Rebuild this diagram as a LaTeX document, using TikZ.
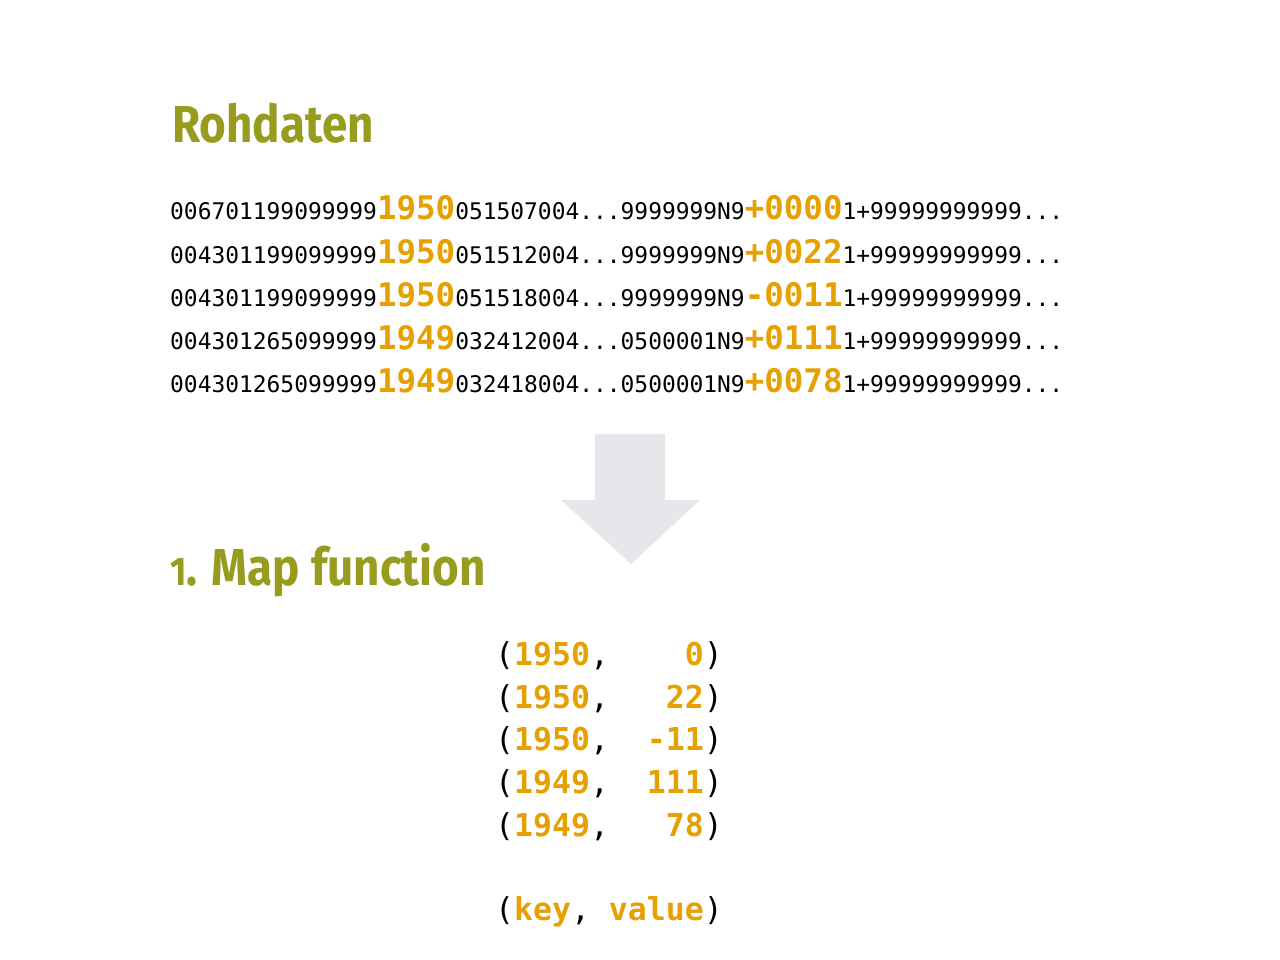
\documentclass[tikz,border=0pt]{standalone}
\usepackage{fontspec}
\setmainfont{Fira Sans}
\setmonofont{DejaVu Sans Mono}
\newfontfamily\headfont[FakeStretch=0.88]{Fira Sans}
\definecolor{headolive}{RGB}{152,156,30}
\definecolor{keyorange}{RGB}{230,160,0}
\definecolor{arrowgrey}{RGB}{232,230,235}
\newcommand{\smtxt}[1]{{\fontsize{22.9}{28}\selectfont\ttfamily #1}}
\newcommand{\bgtxt}[1]{{\fontsize{32.5}{36}\selectfont\ttfamily\bfseries\color{keyorange}#1}}
\newcommand{\kvb}[1]{{\color{black}\mdseries #1}}
\newcommand{\kvo}[1]{{\color{keyorange}\bfseries #1}}
\newcommand{\pz}{\phantom{0}}
\newcommand{\oldone}{\raisebox{0pt}{\fontsize{40}{44}\selectfont 1}}
\begin{document}
\begin{tikzpicture}[x=1pt,y=-1pt,
  heading/.style={anchor=base west,inner sep=0pt,text=headolive,font=\headfont\bfseries\fontsize{52}{60}\selectfont},
  rawrow/.style={anchor=base west,inner sep=0pt,text=black},
  kvrow/.style={anchor=base west,inner sep=0pt,font=\ttfamily\fontsize{31.5}{36}\selectfont}]
\useasboundingbox (0,0) rectangle (1280,960);
\fill[white] (0,0) rectangle (1280,960);

\node[heading] (h1) at (172,143) {Rohdaten};

\node[rawrow] (r1) at (170,220) {\smtxt{006701199099999}\bgtxt{1950}\smtxt{051507004...9999999N9}\bgtxt{+0000}\smtxt{1+99999999999...}};
\node[rawrow] (r2) at (170,263) {\smtxt{004301199099999}\bgtxt{1950}\smtxt{051512004...9999999N9}\bgtxt{+0022}\smtxt{1+99999999999...}};
\node[rawrow] (r3) at (170,306) {\smtxt{004301199099999}\bgtxt{1950}\smtxt{051518004...9999999N9}\bgtxt{-0011}\smtxt{1+99999999999...}};
\node[rawrow] (r4) at (170,349) {\smtxt{004301265099999}\bgtxt{1949}\smtxt{032412004...0500001N9}\bgtxt{+0111}\smtxt{1+99999999999...}};
\node[rawrow] (r5) at (170,392) {\smtxt{004301265099999}\bgtxt{1949}\smtxt{032418004...0500001N9}\bgtxt{+0078}\smtxt{1+99999999999...}};

\fill[arrowgrey] (595,434) -- (665,434) -- (665,500) -- (700,500) -- (631,564) -- (561,500) -- (595,500) -- cycle;

\node[heading] (h2) at (170,585) {\oldone. Map function};

\node[kvrow] (k1) at (495,665) {\kvb{(}\kvo{1950}\kvb{,}\pz\pz\pz\pz\kvo{0}\kvb{)}};
\node[kvrow] (k2) at (495,708) {\kvb{(}\kvo{1950}\kvb{,}\pz\pz\pz\kvo{22}\kvb{)}};
\node[kvrow] (k3) at (495,750.5) {\kvb{(}\kvo{1950}\kvb{,}\pz\pz\kvo{-11}\kvb{)}};
\node[kvrow] (k4) at (495,793) {\kvb{(}\kvo{1949}\kvb{,}\pz\pz\kvo{111}\kvb{)}};
\node[kvrow] (k5) at (495,836) {\kvb{(}\kvo{1949}\kvb{,}\pz\pz\pz\kvo{78}\kvb{)}};
\node[kvrow] (k6) at (495,920.5) {\kvb{(}\kvo{key}\kvb{,}\pz\kvo{value}\kvb{)}};
\end{tikzpicture}
\end{document}
